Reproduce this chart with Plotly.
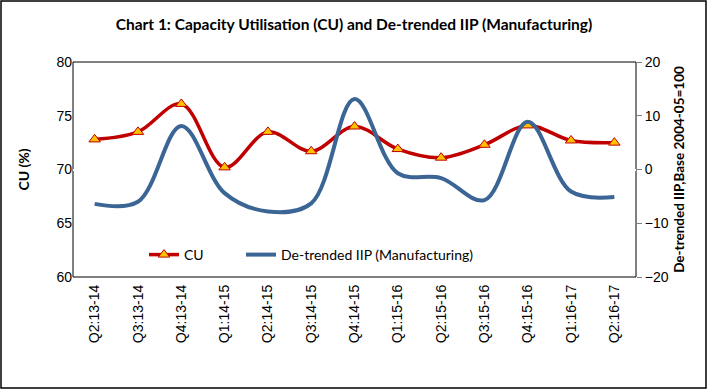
import plotly.graph_objects as go

quarters = ["Q2:13-14", "Q3:13-14", "Q4:13-14", "Q1:14-15", "Q2:14-15", "Q3:14-15",
            "Q4:14-15", "Q1:15-16", "Q2:15-16", "Q3:15-16", "Q4:15-16", "Q1:16-17", "Q2:16-17"]
cu = [72.8, 73.5, 76.1, 70.2, 73.5, 71.7, 74.0, 71.9, 71.1, 72.3, 74.1, 72.7, 72.5]
iip = [-6.4, -6.0, 8.1, -4.4, -7.8, -6.3, 13.1, -0.7, -1.6, -5.7, 8.9, -4.1, -5.1]

W, H = 708, 390
ML, MR, MT, MB = 73, 72, 62, 113
pw, ph = W - ML - MR, H - MT - MB

font = "Lato, 'Open Sans', Arial, sans-serif"
tickfont = "'Liberation Sans', Arial, sans-serif"

fig = go.Figure()
fig.add_trace(go.Scatter(
    x=quarters, y=cu, name="CU", mode="lines+markers",
    line=dict(color="#C00000", width=3.5, shape="spline", smoothing=1.0),
    marker=dict(symbol="triangle-up", size=10, color="#FFC000",
                line=dict(color="#C00000", width=1)),
    yaxis="y", legend="legend"))
fig.add_trace(go.Scatter(
    x=quarters, y=iip, name="De-trended IIP (Manufacturing)", mode="lines",
    line=dict(color="#3B6595", width=4, shape="spline", smoothing=1.0),
    yaxis="y2", legend="legend2"))

leg_common = dict(orientation="h", yanchor="middle", xanchor="left",
                  bgcolor="rgba(0,0,0,0)", font=dict(size=14, family=font),
                  itemwidth=30, borderwidth=0)

fig.update_layout(
    width=W, height=H,
    margin=dict(l=ML, r=MR, t=MT, b=MB),
    paper_bgcolor="white", plot_bgcolor="white",
    font=dict(family=font, size=13, color="black"),
    title=dict(text="<b>Chart 1: Capacity Utilisation (CU) and De-trended IIP (Manufacturing)</b>",
               x=0.5, xanchor="center", y=1 - 25 / H, yanchor="middle",
               font=dict(size=15.5, family=font)),
    xaxis=dict(type="category", tickangle=-90, showgrid=False, ticks="",
               showline=False, tickfont=dict(size=14, family=tickfont),
               ticklabelstandoff=4,
               range=[-0.5, len(quarters) - 0.5]),
    yaxis=dict(range=[60, 80], dtick=5, showgrid=False, showline=False, ticks="",
               tickfont=dict(size=14, family=tickfont),
               title=dict(text="<b>CU (%)</b>", font=dict(size=14), standoff=23)),
    yaxis2=dict(range=[-20, 20], dtick=10, overlaying="y", side="right", showgrid=False,
                showline=True, linecolor="#808080", linewidth=1, ticks="outside",
                ticklen=5, tickcolor="#808080", tickfont=dict(size=14, family=tickfont),
                title=dict(text="<b>De-trended IIP,Base 2004-05=100</b>", font=dict(size=13.5),
                           standoff=6)),
    legend=dict(x=(144 - ML) / pw, y=(277 - 255) / ph, **leg_common),
    legend2=dict(x=(241 - ML) / pw, y=(277 - 255) / ph, **leg_common),
    showlegend=True,
)
# plot area frame
fig.add_shape(type="rect", xref="paper", yref="paper", x0=0, x1=1, y0=0, y1=1,
              line=dict(color="black", width=1), layer="below")
# outer chart border
fig.add_shape(type="rect", xref="paper", yref="paper",
              x0=(-ML + 1) / pw, x1=1 + (MR - 2) / pw,
              y0=(-MB + 2) / ph, y1=1 + (MT - 1) / ph,
              line=dict(color="black", width=1.5))

fig.write_html("out.html", config={"displayModeBar": False},
               post_script="document.body.style.margin='0';document.body.style.overflow='hidden';")
